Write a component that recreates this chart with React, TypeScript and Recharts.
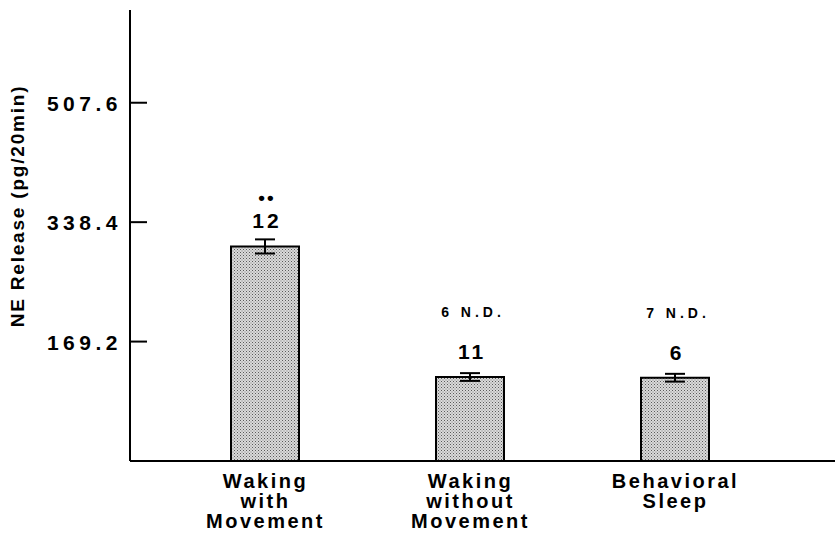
import React from 'react';
import { BarChart, Bar, XAxis, YAxis, ErrorBar, LabelList } from 'recharts';

const categories = ['Waking\nwith\nMovement', 'Waking\nwithout\nMovement', 'Behavioral\nSleep'];
const release = [304, 119, 118];
const sem = [10, 5.5, 5.5];
const nCounts = ['12', '11', '6'];
const notes = ['••', '6 N.D.', '7 N.D.'];
const yTicks = [169.2, 338.4, 507.6];

const data = categories.map((name, i) => ({
    name,
    release: release[i],
    sem: sem[i],
    n: nCounts[i],
    note: notes[i],
}));

const FONT = '"Liberation Sans", Arial, sans-serif';

const YTick = (props: any) => {
    const { x, y, payload } = props;
    return (
        <g>
            <line x1={x} y1={y} x2={x + 17} y2={y} stroke="#000" strokeWidth={2} />
            <text x={x - 8} y={y + 8} textAnchor="end" fontFamily={FONT} fontWeight="bold" fontSize={21} letterSpacing={4.5} fill="#000">
                {payload.value.toFixed(1)}
            </text>
        </g>
    );
};

const XTick = (props: any) => {
    const { x, y, payload } = props;
    const lines = String(payload.value).split('\n');
    return (
        <text x={x} y={y + 25} textAnchor="middle" fontFamily={FONT} fontWeight="bold" fontSize={20} letterSpacing={2.5} fill="#000">
            {lines.map((l, i) => (
                <tspan key={i} x={x + 1} dy={i === 0 ? 0 : 20}>
                    {l}
                </tspan>
            ))}
        </text>
    );
};

// n above each bar, plus the significance / N.D. note above that
const BarNotes = (props: any) => {
    const { x, y, width, index } = props;
    const cx = x + width / 2;
    const note = notes[index];
    const isND = note.includes('N.D.');
    return (
        <g fontFamily={FONT} fontWeight="bold" fill="#000">
            <text x={cx + 2} y={y - 18} textAnchor="middle" fontSize={21} letterSpacing={3}>
                {nCounts[index]}
            </text>
            {isND ? (
                <text x={cx + 3} y={y - 60} textAnchor="middle" fontSize={14} letterSpacing={4}>
                    {note}
                </text>
            ) : (
                <text x={cx + 2} y={y - 42} textAnchor="middle" fontSize={19} letterSpacing={2}>
                    {note}
                </text>
            )}
        </g>
    );
};

const YLabel = () => (
    <text
        x={24}
        y={206}
        transform="rotate(-90, 24, 206)"
        textAnchor="middle"
        fontFamily={FONT}
        fontWeight="bold"
        fontSize={19}
        letterSpacing={1.8}
        fill="#000"
    >
        NE Release (pg/20min)
    </text>
);

export default function App() {
    return (
        <div style={{ position: 'absolute', left: 0, top: 0, background: '#fff' }}>
            <BarChart width={835} height={533} data={data} margin={{ top: 10, right: 0, left: 0, bottom: 0 }}>
                <defs>
                    <pattern id="stipple" width="3" height="3" patternUnits="userSpaceOnUse">
                        <rect width="3" height="3" fill="#dadada" />
                        <rect x="0" y="0" width="1" height="1" fill="#5a5a5a" />
                        <rect x="1.5" y="1.5" width="1" height="1" fill="#7a7a7a" />
                    </pattern>
                </defs>

                <XAxis
                    dataKey="name"
                    height={72}
                    axisLine={{ stroke: '#000', strokeWidth: 2 }}
                    tickLine={false}
                    tickSize={0}
                    tick={<XTick />}
                    interval={0}
                    padding={{ left: 32, right: 58 }}
                />
                <YAxis
                    width={130}
                    domain={[0, 639]}
                    ticks={yTicks}
                    axisLine={{ stroke: '#000', strokeWidth: 2 }}
                    tickLine={false}
                    tickSize={0}
                    tickMargin={0}
                    tick={<YTick />}
                    label={<YLabel />}
                />

                <Bar dataKey="release" barSize={68} fill="url(#stipple)" stroke="#000" strokeWidth={2} isAnimationActive={false}>
                    <ErrorBar dataKey="sem" width={10} stroke="#000" strokeWidth={2} />
                    <LabelList dataKey="n" content={<BarNotes />} />
                </Bar>
            </BarChart>
        </div>
    );
}
